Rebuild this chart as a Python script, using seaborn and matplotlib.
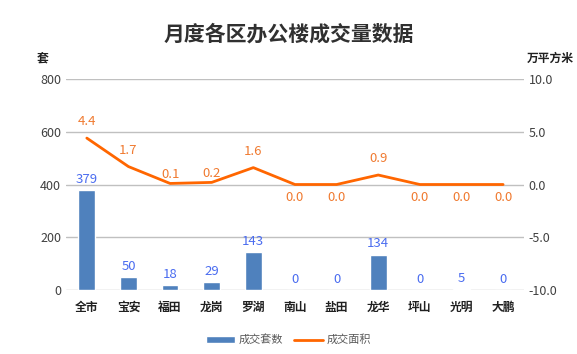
import matplotlib
matplotlib.use("Agg")
import matplotlib.pyplot as plt
import seaborn as sns
import numpy as np
from matplotlib.patches import Patch
from matplotlib.lines import Line2D

categories = ["全市", "宝安", "福田", "龙岗", "罗湖", "南山", "盐田", "龙华", "坪山", "光明", "大鹏"]
units = [379, 50, 18, 29, 143, 0, 0, 134, 0, 5, 0]
area = [4.4, 1.7, 0.1, 0.2, 1.6, 0.0, 0.0, 0.9, 0.0, 0.0, 0.0]
left_ticks = [0, 200, 400, 600, 800]
right_ticks = [-10, -5, 0, 5, 10]

sns.set_theme(style="white")
plt.rcParams['font.family'] = ['Noto Sans CJK SC', 'DejaVu Sans']

bar_color = "#4F81BD"
line_color = "#FF6600"
bar_lab = "#4A6CF0"
line_lab = "#F07A30"
tick_col = "#404040"

fig = plt.figure(figsize=(5.77, 3.54), dpi=100)
ax = fig.add_axes([0.1144, 0.1808, 0.7936, 0.596])

sns.barplot(x=categories, y=units, ax=ax, color=bar_color, width=0.4, saturation=1)
ax.set_ylim(0, 800)
ax.set_yticks(left_ticks)
ax.set_yticklabels([str(t) for t in left_ticks])
ax.grid(axis='y', color="#C0C0C0", linewidth=1)
ax.set_axisbelow(True)
for s in ax.spines.values():
    s.set_visible(False)
ax.tick_params(axis='both', length=0, colors=tick_col, labelsize=9)
ax.tick_params(axis='x', pad=8)
for lbl in ax.get_xticklabels():
    lbl.set_fontweight('bold')
    lbl.set_fontsize(8.5)
    lbl.set_color("#202020")

for i, v in enumerate(units):
    ax.annotate(str(v), (i, v), xytext=(0, 3), textcoords='offset points',
                ha='center', va='bottom', color=bar_lab, fontsize=9.5)

ax2 = ax.twinx()
sns.pointplot(x=categories, y=area, ax=ax2, color=line_color, markers='', linewidth=2)
ax2.set_ylim(-10, 10)
ax2.set_yticks(right_ticks)
ax2.set_yticklabels([f"{t:.1f}" for t in right_ticks])
for s in ax2.spines.values():
    s.set_visible(False)
ax2.tick_params(axis='y', length=0, colors=tick_col, labelsize=9)
ax2.set_ylabel("")
ax.set_xlim(-0.5, len(categories) - 0.5)

for i, v in enumerate(area):
    if v == 0:
        off, va = -5, 'top'
    elif v < 0.5:
        off, va = 2, 'bottom'
    else:
        off, va = 7, 'bottom'
    ax2.annotate(f"{v:.1f}", (i, v), xytext=(0, off), textcoords='offset points',
                 ha='center', va=va, color=line_lab, fontsize=9.5)

fig.text(0.5, 0.905, "月度各区办公楼成交量数据", ha='center', va='center',
         fontsize=15, fontweight='bold', color="#303030")
fig.text(0.073, 0.835, "套", ha='center', va='center', fontsize=8.5,
         fontweight='bold', color="#202020")
fig.text(0.995, 0.835, "万平方米", ha='right', va='center', fontsize=8.5,
         fontweight='bold', color="#202020")

handles = [Patch(facecolor=bar_color, label="成交套数"),
           Line2D([0], [0], color=line_color, linewidth=2, label="成交面积")]
fig.legend(handles=handles, loc='center', bbox_to_anchor=(0.5, 0.04), ncol=2,
           frameon=False, fontsize=8, labelcolor="#595959", handlelength=2.6,
           handleheight=0.6, columnspacing=1.0, handletextpad=0.3)

fig.savefig("out.png", dpi=100)
